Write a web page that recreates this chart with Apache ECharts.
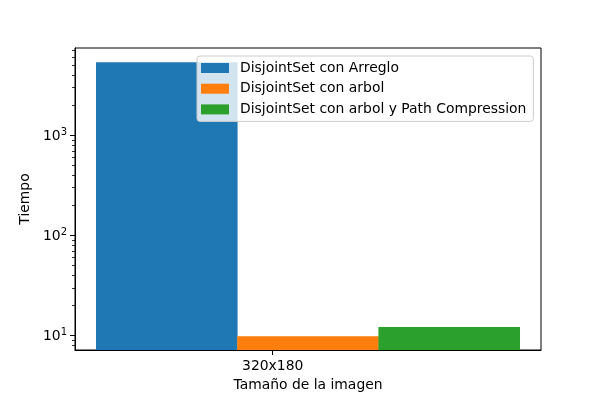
<!DOCTYPE html>
<html><head><meta charset="utf-8">
<script src="https://cdn.jsdelivr.net/npm/echarts@6/dist/echarts.min.js"></script>
<style>html,body{margin:0;padding:0;background:#fff}#c{width:600px;height:400px}</style>
</head><body><div id="c"></div>
<script>
const categories = ['320x180'];
const seriesNames = ['DisjointSet con Arreglo', 'DisjointSet con arbol', 'DisjointSet con arbol y Path Compression'];
const arregloValues = [5350];
const arbolValues = [9.9];
const pathCompValues = [12.2];
const yMajorTicks = [10, 100, 1000];
const yMinorTicks = [8, 9, 20, 30, 40, 50, 60, 70, 80, 90, 200, 300, 400, 500, 600, 700, 800, 900, 2000, 3000, 4000, 5000, 6000, 7000];
const colors = ['#1f77b4', '#ff7f0e', '#2ca02c'];
const FONT = 'DejaVu Sans';
const yMin = 7.2, yMax = 7430;

const chart = echarts.init(document.getElementById('c'), null, {renderer: 'canvas'});
const barPos = [0, 1, 2];
const tickPos = 0.75;
const allVals = [arregloValues, arbolValues, pathCompValues];
const series = allVals.map((vals, i) => ({
  name: seriesNames[i],
  type: 'bar',
  xAxisIndex: 0, yAxisIndex: 0,
  barWidth: 141.6,
  barGap: '-100%',
  clip: true,
  itemStyle: {color: colors[i], borderWidth: 0},
  data: vals.map(v => [barPos[i], v])
}));

chart.setOption({
  animation: false,
  textStyle: {fontFamily: FONT},
  grid: {left: 75, right: 59, top: 48, bottom: 50, show: true, borderColor: '#000', borderWidth: 1, backgroundColor: 'transparent'},
  legend: {
    orient: 'vertical', left: 197, top: 56, align: 'left',
    icon: 'rect', itemWidth: 28, itemHeight: 10, itemGap: 6.7,
    padding: [5, 7, 5, 4],
    backgroundColor: 'rgba(255,255,255,0.8)', borderColor: '#ccc', borderWidth: 1, borderRadius: 3,
    textStyle: {fontFamily: FONT, fontSize: 13.9, color: '#000', padding: [0, 0, 0, 6]},
    data: seriesNames
  },
  xAxis: {
    type: 'value', min: -0.65, max: 2.65,
    name: 'Tamaño de la imagen', nameLocation: 'middle', nameGap: 28,
    nameTextStyle: {fontFamily: FONT, fontSize: 13.9, color: '#000'},
    splitLine: {show: false},
    axisLine: {show: true, onZero: false, lineStyle: {color: '#000', width: 1}},
    axisTick: {show: true, length: 5, inside: false, customValues: [tickPos], lineStyle: {color: '#000'}},
    axisLabel: {show: true, margin: 9, fontSize: 13.9, color: '#000', fontFamily: FONT, customValues: [tickPos], formatter: () => categories[0]}
  },
  yAxis: [{
    type: 'log', min: yMin, max: yMax, logBase: 10,
    name: 'Tiempo', nameLocation: 'middle', nameGap: 35,
    nameTextStyle: {fontFamily: FONT, fontSize: 13.9, color: '#000'},
    splitLine: {show: false},
    axisLine: {show: true, onZero: false, lineStyle: {color: '#000', width: 1}},
    axisTick: {show: true, length: 5, customValues: yMajorTicks, lineStyle: {color: '#000'}},
    axisLabel: {
      show: true, margin: 8, customValues: yMajorTicks, color: '#000', fontFamily: FONT,
      formatter: v => '{b|10}{s|' + Math.round(Math.log10(v)) + '}',
      rich: {
        b: {fontSize: 13.9, fontFamily: FONT, color: '#000', verticalAlign: 'bottom', lineHeight: 16},
        s: {fontSize: 10, fontFamily: FONT, color: '#000', verticalAlign: 'top', lineHeight: 16, padding: [0, 0, 6, 0]}
      }
    }
  }, {
    type: 'log', min: yMin, max: yMax, logBase: 10, position: 'left',
    splitLine: {show: false},
    axisLine: {show: false, onZero: false},
    axisTick: {show: true, length: 3, customValues: yMinorTicks, lineStyle: {color: '#000', width: 0.8}},
    axisLabel: {show: false}
  }],
  series: series
});
</script></body></html>
